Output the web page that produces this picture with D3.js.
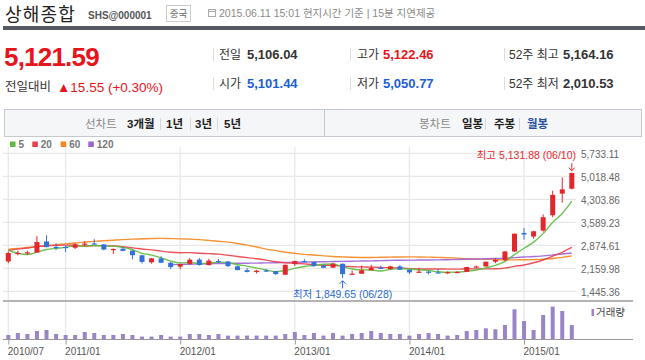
<!DOCTYPE html>
<html><head><meta charset="utf-8">
<script src="https://cdn.jsdelivr.net/npm/d3@7"></script>
<style>
body{margin:0;background:#fff;}
svg{display:block;font-family:"Liberation Sans","Noto Sans CJK KR",sans-serif;}
</style>
</head><body>
<svg id="c" width="645" height="360"></svg>
<script>
const months = ["2010/07","2010/08","2010/09","2010/10","2010/11","2010/12",
"2011/01","2011/02","2011/03","2011/04","2011/05","2011/06","2011/07","2011/08","2011/09","2011/10","2011/11","2011/12",
"2012/01","2012/02","2012/03","2012/04","2012/05","2012/06","2012/07","2012/08","2012/09","2012/10","2012/11","2012/12",
"2013/01","2013/02","2013/03","2013/04","2013/05","2013/06","2013/07","2013/08","2013/09","2013/10","2013/11","2013/12",
"2014/01","2014/02","2014/03","2014/04","2014/05","2014/06","2014/07","2014/08","2014/09","2014/10","2014/11","2014/12",
"2015/01","2015/02","2015/03","2015/04","2015/05","2015/06"];

const openP = [2373,2632,2622,2650,2993,2826,
2825,2799,2900,2933,2903,2740,2768,2709,2565,2346,2466,2331,
2212,2296,2430,2259,2389,2370,2222,2102,2043,2092,2071,1960,
2289,2383,2359,2239,2182,2300,1977,1991,2100,2184,2136,2216,
2112,2029,2056,2033,2020,2037,2051,2206,2217,2364,2415,2681,
3258,3148,3332,3810,4480,4633];

const highP = [2679,2707,2702,3159,3186,2939,
2862,2942,3000,3067,2907,2775,2826,2717,2581,2475,2536,2361,
2300,2478,2478,2454,2453,2382,2242,2173,2111,2133,2082,2276,
2398,2444,2359,2267,2334,2314,2093,2248,2270,2242,2243,2260,
2126,2177,2079,2146,2063,2073,2207,2248,2366,2474,2692,3239,
3407,3324,3835,4572,4986,5131.88];

const lowP = [2319,2562,2573,2649,2807,2721,
2661,2758,2845,2909,2718,2610,2686,2437,2307,2307,2318,2134,
2132,2271,2242,2254,2325,2206,2100,2032,1999,2048,1948,1949,
2233,2347,2206,2161,2166,1849.65,1951,1991,2093,2132,2123,2105,
1984,2028,1974,2019,1991,2010,2045,2170,2213,2318,2375,2674,
3049,3075,3298,3747,4198,4610];

const closeP = [2637,2638,2655,2979,2820,2808,
2790,2905,2928,2911,2743,2762,2701,2567,2359,2468,2333,2199,
2292,2428,2263,2397,2373,2225,2103,2047,2086,2069,1980,2269,
2385,2366,2237,2178,2301,1979,1994,2098,2175,2141,2220,2116,
2033,2056,2033,2026,2039,2048,2201,2217,2364,2420,2683,3235,
3211,3310,3748,4441,4612,5121.59];

const volume = [43,63,53,83,93,53,
43,43,73,63,43,43,53,43,27,27,43,27,
27,53,53,43,53,37,37,37,37,37,37,53,
73,43,63,37,63,37,53,63,83,63,53,53,
37,53,63,53,37,43,83,93,110,100,143,300,
183,93,243,327,283,143];

const ma5 = [2721,2627,2584,2661,2746,2780,
2810,2860,2850,2868,2855,2850,2809,2737,2626,2571,2486,2385,
2330,2344,2303,2316,2351,2337,2272,2229,2167,2106,2057,2090,
2158,2214,2247,2287,2293,2212,2138,2110,2109,2077,2126,2150,
2137,2113,2092,2053,2037,2040,2069,2106,2174,2250,2377,2584,
2783,2972,3237,3589,3864,4247];

const ma20 = [2715,2756,2790,2834,2857,2873,
2881,2878,2854,2866,2865,2853,2828,2793,2761,2732,2693,2660,
2645,2646,2627,2615,2601,2564,2528,2490,2455,2413,2365,2333,
2315,2296,2272,2253,2250,2226,2209,2204,2198,2183,2181,2167,
2150,2142,2138,2137,2135,2134,2145,2142,2141,2144,2166,2219,
2264,2331,2419,2536,2658,2807];

const ma60 = [2755,2780,2805,2836,2865,2892,
2918,2945,2972,2996,3015,3033,3051,3066,3076,3087,3091,3083,
3074,3067,3052,3027,2999,2972,2932,2880,2822,2757,2709,2659,
2626,2593,2572,2547,2528,2515,2502,2497,2495,2502,2508,2513,
2514,2513,2508,2500,2490,2475,2455,2447,2440,2431,2422,2422,
2425,2430,2440,2466,2500,2545];

const ma120 = [null,null,null,null,null,null,
null,null,null,null,null,null,null,null,null,null,null,2274,
2281,2288,2294,2300,2307,2311,2315,2318,2322,2327,2331,2339,
2346,2354,2360,2365,2371,2375,2380,2385,2392,2399,2405,2411,
2414,2417,2420,2423,2427,2433,2440,2447,2455,2464,2475,2492,
2509,2525,2547,2574,2604,2637];

const priceTicks = [5733.11,5018.48,4303.86,3589.23,2874.61,2159.98,1445.36];
const yearTicks = ["2010/07","2011/01","2012/01","2013/01","2014/01","2015/01"];
const maNames = ["5","20","60","120"];
const maColors = ["#5cba3c","#e8404a","#f5861f","#9b62d6"];

const RED = "#e3262c", BLUE = "#2f72da";
const svg = d3.select("#c");
const data = months.map((m,i)=>({m, o:openP[i], h:highP[i], l:lowP[i], c:closeP[i], v:volume[i]}));

// ---------- header ----------
svg.append("text").attr("x",5).attr("y",21).attr("font-size",18).attr("letter-spacing",1.2).attr("fill","#222")
  .attr("font-family","Noto Sans CJK KR").text("상해종합");
svg.append("text").attr("x",88).attr("y",19).attr("font-size",10).attr("font-weight","bold").attr("fill","#555").text("SHS@000001");
svg.append("rect").attr("x",166.5).attr("y",5.5).attr("width",24).attr("height",16).attr("fill","#fff").attr("stroke","#ccc");
svg.append("text").attr("x",178.5).attr("y",17).attr("text-anchor","middle").attr("font-size",9.5).attr("fill","#666").text("중국");
svg.append("rect").attr("x",208.5).attr("y",9.5).attr("width",7).attr("height",7).attr("fill","none").attr("stroke","#aaa");
svg.append("line").attr("x1",208.5).attr("x2",215.5).attr("y1",11.5).attr("y2",11.5).attr("stroke","#aaa");
svg.append("text").attr("x",219).attr("y",17).attr("font-size",10.5).attr("fill","#8a8a8a").text("2015.06.11 15:01 현지시간 기준  |  15분 지연제공");
svg.append("rect").attr("x",3).attr("y",26).attr("width",642).attr("height",4).attr("fill","#555a62");

// ---------- price summary ----------
svg.append("text").attr("x",4).attr("y",66).attr("font-size",26).attr("font-weight","bold")
  .attr("letter-spacing",-0.8).attr("fill","#e8141b").text("5,121.59");
svg.append("text").attr("x",5).attr("y",91).attr("font-size",12.5).attr("fill","#333").text("전일대비");
svg.append("text").attr("x",57).attr("y",92).attr("font-size",13.5).attr("fill","#e8141b").text("▲15.55 (+0.30%)");

const cols = [
  {sx:213.5, lx:219, vx:247, rows:[["전일","5,106.04","#333"],["시가","5,101.44","#1d5ed6"]]},
  {sx:350.5, lx:357, vx:383, rows:[["고가","5,122.46","#e8141b"],["저가","5,050.77","#1d5ed6"]]},
  {sx:504.5, lx:509, vx:563, rows:[["52주 최고","5,164.16","#333"],["52주 최저","2,010.53","#333"]]}
];
const rowY = [59, 88];
cols.forEach(c=>{
  c.rows.forEach((r,k)=>{
    svg.append("line").attr("x1",c.sx).attr("x2",c.sx).attr("y1",rowY[k]-11).attr("y2",rowY[k]+2).attr("stroke","#ddd");
    svg.append("text").attr("x",c.lx).attr("y",rowY[k]).attr("font-size",12).attr("fill","#333").text(r[0]);
    svg.append("text").attr("x",c.vx).attr("y",rowY[k]).attr("font-size",13).attr("font-weight","bold").attr("fill",r[2]).text(r[1]);
  });
});

// ---------- tab bar ----------
svg.append("rect").attr("x",4.5).attr("y",109.5).attr("width",637).attr("height",27).attr("fill","#f5f6f8").attr("stroke","#c5c9cf");
svg.append("line").attr("x1",324.5).attr("x2",324.5).attr("y1",110).attr("y2",136).attr("stroke","#c5c9cf");
const tabs = [
  ["선차트",85,"#8a8a8a","normal"],["3개월",127,"#222","bold"],["1년",166,"#222","bold"],["3년",195,"#222","bold"],["5년",224,"#222","bold"],
  ["봉차트",419,"#8a8a8a","normal"],["일봉",462,"#222","bold"],["주봉",494,"#222","bold"],["월봉",527,"#2a4fa0","bold"]
];
tabs.forEach(t=>svg.append("text").attr("x",t[1]).attr("y",128).attr("font-size",11.5).attr("font-weight",t[3]).attr("fill",t[2]).text(t[0]));
[160,190,217,485,519].forEach(x=>svg.append("line").attr("x1",x+0.5).attr("x2",x+0.5).attr("y1",118).attr("y2",130).attr("stroke","#d8d8d8"));

// ---------- legend ----------
const legX = [10,32.3,60.7,88.3];
maNames.forEach((n,i)=>{
  svg.append("rect").attr("x",legX[i]).attr("y",141.5).attr("width",5.5).attr("height",5.5).attr("fill",maColors[i]);
  svg.append("text").attr("x",legX[i]+8.5).attr("y",147.5).attr("font-size",10).attr("font-weight","bold").attr("fill","#777").text(n);
});

// ---------- scales ----------
const x = d3.scalePoint().domain(months).range([8.3, 571.8]);
const y = d3.scaleLinear().domain([1445.36, 5733.11]).range([291.3, 153.3]);
const yv = d3.scaleLinear().domain([0, 370]).range([339.3, 302.3]);

// gridlines
svg.append("g").selectAll("line").data(priceTicks).join("line")
  .attr("x1",3).attr("x2",576).attr("y1",d=>y(d)).attr("y2",d=>y(d))
  .attr("stroke","#e8e8e8").attr("stroke-width",1.3);
svg.append("g").selectAll("line").data(yearTicks).join("line")
  .attr("x1",d=>x(d)).attr("x2",d=>x(d)).attr("y1",147).attr("y2",339)
  .attr("stroke","#e8e8e8").attr("stroke-width",1.3);

// y labels
svg.append("g").selectAll("text").data(priceTicks).join("text")
  .attr("x",581).attr("y",d=>y(d)+4.5).attr("font-size",10).attr("fill","#666")
  .text(d=>d3.format(",.2f")(d));

// price panel bottom
svg.append("line").attr("x1",3).attr("x2",633).attr("y1",301).attr("y2",301).attr("stroke","#b3b3b3").attr("stroke-width",2);

// MA lines
const mas = [ma5, ma20, ma60, ma120];
[2,3,1,0].forEach(k=>{
  const line = d3.line().defined(d=>d!=null).x((d,i)=>x(months[i])).y(d=>y(d)).curve(d3.curveMonotoneX);
  svg.append("path").datum(mas[k]).attr("d",line).attr("fill","none")
    .attr("stroke",maColors[k]).attr("stroke-width",1.4).attr("stroke-opacity",0.9);
});

// candles
const cg = svg.append("g");
cg.selectAll("line").data(data).join("line")
  .attr("x1",d=>x(d.m)).attr("x2",d=>x(d.m)).attr("y1",d=>y(d.h)).attr("y2",d=>y(d.l))
  .attr("stroke",d=>d.c>=d.o?RED:BLUE).attr("stroke-width",1);
cg.selectAll("rect").data(data).join("rect")
  .attr("x",d=>x(d.m)-2.5).attr("width",5)
  .attr("y",d=>y(Math.max(d.o,d.c)))
  .attr("height",d=>Math.max(1.2, Math.abs(y(d.o)-y(d.c))))
  .attr("fill",d=>d.c>=d.o?RED:BLUE);

// high / low markers
const iMax = d3.maxIndex(highP), iMin = d3.minIndex(lowP);
const mx = x(months[iMax]), my = y(highP[iMax]);
svg.append("text").attr("x",576).attr("y",my-13.5).attr("text-anchor","end").attr("font-size",10.5).attr("fill","#e8282e")
  .text("최고 " + d3.format(",.2f")(highP[iMax]) + " (06/10)");
svg.append("path").attr("d",`M${mx},${my-9.5}V${my-2}M${mx-3},${my-5}L${mx},${my-2}L${mx+3},${my-5}`)
  .attr("fill","none").attr("stroke","#e8282e").attr("stroke-width",1);
const nx = x(months[iMin]), ny = y(lowP[iMin]);
svg.append("path").attr("d",`M${nx},${ny+10}V${ny+2.5}M${nx-3},${ny+5.5}L${nx},${ny+2.5}L${nx+3},${ny+5.5}`)
  .attr("fill","none").attr("stroke","#2a6ad6").attr("stroke-width",1);
svg.append("text").attr("x",nx).attr("y",ny+20).attr("text-anchor","middle").attr("font-size",10.5).attr("fill","#2a6ad6")
  .text("최저 " + d3.format(",.2f")(lowP[iMin]) + " (06/28)");

// volume bars
svg.append("g").selectAll("rect").data(data).join("rect")
  .attr("x",d=>x(d.m)-2).attr("width",4)
  .attr("y",d=>yv(d.v)).attr("height",d=>yv(0)-yv(d.v))
  .attr("fill","#9a84c8");
svg.append("rect").attr("x",591.5).attr("y",309).attr("width",2.5).attr("height",7).attr("fill","#9a84c8");
svg.append("text").attr("x",596).attr("y",316).attr("font-size",10.5).attr("fill","#444").text("거래량");

// x axis
const xAxis = svg.append("g").attr("transform","translate(0,339.5)")
  .call(d3.axisBottom(x).tickValues(yearTicks).tickSize(5).tickSizeOuter(0));
xAxis.select(".domain").remove();
xAxis.selectAll(".tick line").attr("stroke","#999");
xAxis.selectAll(".tick text").attr("text-anchor","start").attr("x",-1).attr("y",8)
  .attr("font-size",10).attr("fill","#555").attr("font-family","Liberation Sans");
svg.append("line").attr("x1",3).attr("x2",633).attr("y1",339.5).attr("y2",339.5).attr("stroke","#999");
</script>
</body></html>
